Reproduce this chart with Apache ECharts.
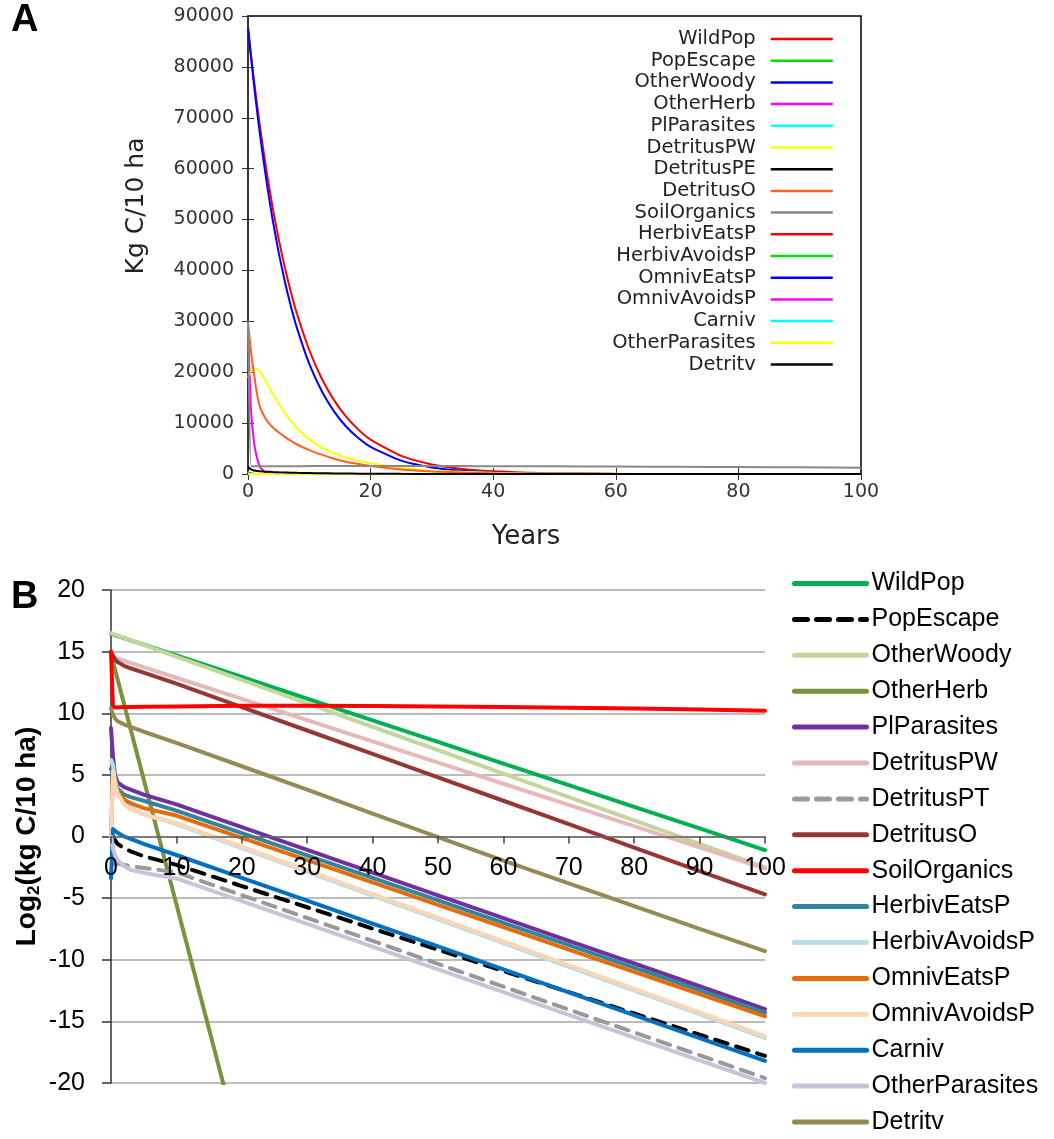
<!DOCTYPE html>
<html>
<head>
<meta charset="utf-8">
<script src="https://cdn.jsdelivr.net/npm/echarts@6/dist/echarts.min.js"></script>
<style>
  html, body { margin: 0; padding: 0; background: #fff; }
  #chart { width: 1054px; height: 1139px; }
</style>
</head>
<body>
<div id="chart"></div>
<script>
// ---- panel A : Kg C / 10 ha (linear) ----
const yearsA = [0, 0.5, 1, 1.5, 2, 3, 4, 5, 6, 7, 8, 10, 12, 14, 16, 18, 20, 25, 30, 35, 40, 45, 50, 60, 70, 80, 90, 100];
const namesA = ['WildPop', 'PopEscape', 'OtherWoody', 'OtherHerb', 'PlParasites', 'DetritusPW', 'DetritusPE', 'DetritusO',
  'SoilOrganics', 'HerbivEatsP', 'HerbivAvoidsP', 'OmnivEatsP', 'OmnivAvoidsP', 'Carniv', 'OtherParasites', 'Detritv'];
const wildPopA = [87700, 82250, 77140, 72350, 67860, 59690, 52510, 46180, 40620, 35730, 31430, 24320, 18820, 14570, 11270, 8720, 6750, 3550, 1870, 984, 518, 273, 144, 40, 11, 3, 1, 0];
const popEscapeA = [0, 1, 1, 1, 1, 1, 1, 1, 1, 1, 0.5, 0.5, 0.5, 0.4, 0.3, 0.3, 0.2, 0.1, 0.1, 0, 0, 0, 0, 0, 0, 0, 0, 0];
const otherWoodyA = [87700, 81770, 76250, 71090, 66280, 57630, 50100, 43550, 37860, 32910, 28620, 21630, 16350, 12360, 9340, 7060, 5330, 2620, 1290, 636, 313, 154, 76, 18, 4, 1, 0, 0];
const otherHerbA = [29000, 12500, 6000, 3000, 1300, 200, 40, 10, 2, 1, 0, 0, 0, 0, 0, 0, 0, 0, 0, 0, 0, 0, 0, 0, 0, 0, 0, 0];
const plParasitesA = [450, 60, 25, 18, 15, 13, 12, 11, 10, 9, 9, 8, 7, 6, 5, 4, 3, 2, 1, 0.5, 0, 0, 0, 0, 0, 0, 0, 0];
const detritusPWA = [19000, 20300, 20800, 20700, 20100, 18000, 15800, 13800, 12000, 10400, 9000, 6800, 5200, 4100, 3200, 2600, 2100, 1200, 700, 420, 250, 150, 90, 30, 10, 4, 1, 0];
const detritusPEA = [0.5, 0.3, 0.2, 0.2, 0.2, 0.2, 0.2, 0.2, 0.1, 0.1, 0.1, 0.1, 0.1, 0, 0, 0, 0, 0, 0, 0, 0, 0, 0, 0, 0, 0, 0, 0];
const detritusOA = [29800, 24000, 19500, 15500, 13000, 10600, 9200, 8200, 7300, 6500, 5800, 4700, 3800, 3000, 2400, 1950, 1550, 900, 500, 280, 160, 90, 50, 15, 5, 1, 0, 0];
const soilOrganicsA = [30000, 1500, 1510, 1520, 1520, 1530, 1530, 1540, 1540, 1540, 1540, 1550, 1550, 1550, 1550, 1560, 1560, 1560, 1550, 1550, 1540, 1520, 1500, 1460, 1420, 1370, 1310, 1250];
const herbivEatsPA = [45, 40, 18, 12, 10, 9, 8, 7, 6, 6, 5, 4, 3, 3, 2, 2, 2, 1, 0.5, 0.3, 0, 0, 0, 0, 0, 0, 0, 0];
const herbivAvoidsPA = [73, 40, 14, 10, 8, 6, 5, 4, 4, 3, 3, 2, 2, 1, 1, 1, 1, 0.5, 0.3, 0.2, 0, 0, 0, 0, 0, 0, 0, 0];
const omnivEatsPA = [1, 30, 14, 10, 8, 6, 5, 5, 4, 4, 3, 3, 2, 2, 1, 1, 1, 0.5, 0.3, 0.2, 0, 0, 0, 0, 0, 0, 0, 0];
const omnivAvoidsPA = [1, 35, 12, 9, 6, 5, 4, 3, 3, 3, 2, 2, 1, 1, 1, 1, 0.5, 0.3, 0.2, 0.1, 0, 0, 0, 0, 0, 0, 0, 0];
const carnivA = [0.1, 1.5, 1.2, 1.1, 1, 0.9, 0.8, 0.7, 0.6, 0.6, 0.5, 0.4, 0.3, 0.3, 0.2, 0.2, 0.1, 0.1, 0, 0, 0, 0, 0, 0, 0, 0, 0, 0];
const otherParasitesA = [1, 0.4, 0.25, 0.25, 0.2, 0.2, 0.15, 0.12, 0.1, 0.1, 0.1, 0.1, 0.1, 0, 0, 0, 0, 0, 0, 0, 0, 0, 0, 0, 0, 0, 0, 0];
const detritvA = [1350, 900, 700, 580, 520, 450, 390, 340, 300, 270, 240, 190, 150, 120, 90, 70, 55, 30, 15, 8, 4, 2, 1, 0, 0, 0, 0, 0];
const valuesA = [wildPopA, popEscapeA, otherWoodyA, otherHerbA, plParasitesA, detritusPWA, detritusPEA, detritusOA,
  soilOrganicsA, herbivEatsPA, herbivAvoidsPA, omnivEatsPA, omnivAvoidsPA, carnivA, otherParasitesA, detritvA];
const colorsA = ['#ff0000', '#00e000', '#0000ff', '#ff00ff', '#00ffff', '#ffff00', '#000000', '#ff6020', '#888888',
  '#ff0000', '#00e000', '#0000ff', '#ff00ff', '#00ffff', '#ffff00', '#000000'];

// ---- panel B : log2(kg C / 10 ha) ----
const yearsB = [0, 0.3, 0.6, 1, 2, 3, 5, 10, 20, 30, 40, 50, 60, 70, 80, 90, 100];
const namesB = ['WildPop', 'PopEscape', 'OtherWoody', 'OtherHerb', 'PlParasites', 'DetritusPW', 'DetritusPT', 'DetritusO',
  'SoilOrganics', 'HerbivEatsP', 'HerbivAvoidsP', 'OmnivEatsP', 'OmnivAvoidsP', 'Carniv', 'OtherParasites', 'Detritv'];
const wildPopB = [16.45, 16.40, 16.34, 16.27, 16.10, 15.92, 15.57, 14.70, 12.94, 11.19, 9.43, 7.68, 5.92, 4.17, 2.41, 0.66, -1.1];
const popEscapeB = [null, 0.0, -0.3, -0.6, -0.95, -1.2, -1.6, -2.3, -4.02, -5.74, -7.47, -9.19, -10.91, -12.63, -14.36, -16.08, -17.8];
const otherWoodyB = [16.5, 16.44, 16.39, 16.31, 16.12, 15.93, 15.55, 14.6, 12.7, 10.8, 8.9, 7.0, 5.1, 3.2, 1.3, -0.6, -2.5];
const otherHerbB = [14.8, 14.19, 13.58, 12.77, 10.74, 8.71, 4.65, -5.5, -25.8, null, null, null, null, null, null, null, null];
const plParasitesB = [8.8, 6.5, 5.0, 4.4, 4.0, 3.8, 3.4, 2.6, 0.76, -1.09, -2.93, -4.78, -6.62, -8.46, -10.3, -12.15, -14.0];
const detritusPWB = [14.6, 14.55, 14.5, 14.43, 14.26, 14.08, 13.74, 12.88, 11.16, 9.44, 7.72, 6.0, 4.28, 2.56, 0.84, -0.88, -2.6];
const detritusPTB = [null, null, -2.2, -2.2, -2.3, -2.4, -2.55, -2.9, -4.76, -6.61, -8.47, -10.33, -12.18, -14.04, -15.89, -17.74, -19.6];
const detritusOB = [15.0, 14.7, 14.4, 14.15, 13.85, 13.65, 13.3, 12.4, 10.5, 8.6, 6.7, 4.8, 2.9, 1.0, -0.9, -2.8, -4.7];
const soilOrganicsB = [15.0, 10.5, 10.45, 10.47, 10.5, 10.5, 10.52, 10.55, 10.6, 10.6, 10.58, 10.55, 10.5, 10.45, 10.38, 10.3, 10.2];
const herbivEatsPB = [5.5, 5.6, 4.6, 3.9, 3.4, 3.2, 2.9, 2.1, 0.28, -1.54, -3.36, -5.18, -7.0, -8.82, -10.64, -12.47, -14.3];
const herbivAvoidsPB = [6.2, 5.8, 4.6, 3.7, 2.9, 2.4, 1.8, 1.0, -0.95, -2.87, -4.8, -6.72, -8.65, -10.57, -12.5, -14.42, -16.35];
const omnivEatsPB = [0.2, 5.0, 4.2, 3.7, 3.0, 2.7, 2.3, 1.7, -0.11, -1.92, -3.73, -5.54, -7.35, -9.17, -10.98, -12.79, -14.6];
const omnivAvoidsPB = [0.0, 5.3, 4.2, 3.5, 2.6, 2.2, 1.8, 1.1, -0.82, -2.74, -4.67, -6.59, -8.51, -10.43, -12.36, -14.28, -16.2];
const carnivB = [-3.4, 0.6, 0.5, 0.3, 0.0, -0.2, -0.6, -1.5, -3.36, -5.21, -7.07, -8.92, -10.78, -12.64, -14.49, -16.35, -18.2];
const otherParasitesB = [0.0, -1.0, -1.5, -1.9, -2.4, -2.7, -2.95, -3.4, -5.24, -7.09, -8.93, -10.78, -12.62, -14.47, -16.31, -18.16, -20.0];
const detritvB = [10.4, 9.9, 9.6, 9.35, 9.1, 8.9, 8.5, 7.6, 5.7, 3.8, 1.85, -0.05, -1.95, -3.8, -5.65, -7.5, -9.3];
const valuesB = [wildPopB, popEscapeB, otherWoodyB, otherHerbB, plParasitesB, detritusPWB, detritusPTB, detritusOB,
  soilOrganicsB, herbivEatsPB, herbivAvoidsPB, omnivEatsPB, omnivAvoidsPB, carnivB, otherParasitesB, detritvB];
const colorsB = ['#00b050', '#000000', '#c3d69b', '#77933c', '#7030a0', '#e6b9b8', '#999999', '#953735',
  '#ff0000', '#31859c', '#b7dee8', '#e46c0a', '#fcd5b5', '#0070c0', '#ccc1da', '#948a54'];
const dashedB = ['PopEscape', 'DetritusPT'];

const font = 'Liberation Sans, Arial, sans-serif';
const fontA = 'DejaVu Sans, sans-serif';
const chart = echarts.init(document.getElementById('chart'));

const seriesA = namesA.map((name, k) => ({
  name: name,
  type: 'line',
  xAxisIndex: 0,
  yAxisIndex: 0,
  symbol: 'none',
  smooth: 0.2,
  data: yearsA.map((t, i) => [t, valuesA[k][i]]),
  lineStyle: { color: colorsA[k], width: 2 },
  itemStyle: { color: colorsA[k] }
}));

// B names carry a suffix so both legends find their own series
const seriesB = namesB.map((name, k) => ({
  name: name + ' (B)',
  type: 'line',
  xAxisIndex: 2,
  yAxisIndex: 2,
  symbol: 'none',
  data: yearsB.map((t, i) => [t, valuesB[k][i]]),
  lineStyle: {
    color: colorsB[k],
    width: 4,
    cap: 'round',
    join: 'round',
    type: dashedB.includes(name) ? [13, 9] : 'solid'
  },
  itemStyle: { color: colorsB[k] }
}));

const option = {
  backgroundColor: '#fff',
  animation: false,
  textStyle: { fontFamily: font },
  title: [
    { text: 'A', left: 11, top: 2, padding: 0, textStyle: { fontSize: 38, fontWeight: 'bold', color: '#000', fontFamily: font } },
    { text: 'B', left: 11, top: 579, padding: 0, textStyle: { fontSize: 38, fontWeight: 'bold', color: '#000', fontFamily: font } }
  ],
  graphic: [
    { type: 'text', x: 136, y: 206, rotation: Math.PI / 2,
      style: { text: 'Kg C/10 ha', font: '25px ' + fontA, fill: '#222', align: 'center', verticalAlign: 'middle' } },
    { type: 'text', x: 526, y: 537,
      style: { text: 'Years', font: '26px ' + fontA, fill: '#222', align: 'center', verticalAlign: 'middle' } }
  ],
  grid: [
    { left: 248, top: 16, width: 613, height: 458, show: true, borderColor: '#000', borderWidth: 1.5, backgroundColor: 'transparent' },
    { left: 111, top: 590, width: 654, height: 493 }
  ],
  legend: [
    {
      data: namesA,
      orient: 'vertical',
      align: 'right',
      right: 220,
      top: 29,
      padding: 0,
      itemWidth: 62,
      itemHeight: 20,
      itemGap: 1.7,
      itemStyle: { opacity: 0 },
      lineStyle: { width: 2.5 },
      textStyle: { fontSize: 19.5, lineHeight: 20, color: '#222', fontFamily: fontA, padding: [0, 10, 0, 0] }
    },
    {
      data: namesB.map(n => n + ' (B)'),
      orient: 'vertical',
      align: 'left',
      left: 792,
      top: 571,
      padding: 0,
      itemWidth: 72,
      itemHeight: 26,
      itemGap: 10.9,
      itemStyle: { opacity: 0 },
      lineStyle: { width: 5 },
      formatter: n => n.replace(' (B)', ''),
      textStyle: { fontSize: 25, color: '#000', fontFamily: font }
    }
  ],
  xAxis: [
    {
      gridIndex: 0, type: 'value', min: 0, max: 100, interval: 20,
      axisLine: { show: true, onZero: false, lineStyle: { color: '#333', width: 1.5 } },
      axisTick: { inside: true, length: 6, lineStyle: { color: '#333' } },
      axisLabel: { fontSize: 19, color: '#333', margin: 9, fontFamily: fontA },
      splitLine: { show: false }
    },
    {
      gridIndex: 0, type: 'value', position: 'top', min: 0, max: 100, interval: 20,
      axisLine: { show: false },
      axisTick: { inside: true, length: 6, lineStyle: { color: '#333' } },
      axisLabel: { show: false },
      splitLine: { show: false }
    },
    {
      // year axis drawn across the zero line, as in the spreadsheet chart
      gridIndex: 1, type: 'value', min: 0, max: 100, interval: 10, z: 5,
      offset: -246.5,
      axisLine: { show: true, onZero: false, lineStyle: { color: '#666', width: 1.5 } },
      axisTick: { show: true, length: 7, lineStyle: { color: '#444', width: 1.5 } },
      axisLabel: { fontSize: 25, color: '#000', margin: 19 },
      splitLine: { show: false }
    }
  ],
  yAxis: [
    {
      gridIndex: 0, type: 'value', min: 0, max: 90000, interval: 10000,
      axisLine: { show: true, lineStyle: { color: '#333', width: 1.5 } },
      axisTick: { inside: true, length: 6, lineStyle: { color: '#333' } },
      axisLabel: { fontSize: 19, color: '#333', margin: 14, fontFamily: fontA, formatter: v => String(v) },
      splitLine: { show: false }
    },
    {
      gridIndex: 0, type: 'value', position: 'right', min: 0, max: 90000, interval: 10000,
      axisLine: { show: false },
      axisTick: { inside: true, length: 6, lineStyle: { color: '#333' } },
      axisLabel: { show: false },
      splitLine: { show: false }
    },
    {
      gridIndex: 1, type: 'value', min: -20, max: 20, interval: 5,
      name: 'Log{sub|2}(kg C/10 ha)',
      nameLocation: 'middle',
      nameGap: 68,
      nameMoveOverlap: false,
      nameTextStyle: {
        fontSize: 28, fontWeight: 'bold', color: '#000', fontFamily: font, lineHeight: 32,
        rich: { sub: { fontSize: 17, fontWeight: 'bold', color: '#000', fontFamily: font, verticalAlign: 'bottom', lineHeight: 15 } }
      },
      axisLine: { show: true, lineStyle: { color: '#333', width: 1.5 } },
      axisTick: { show: true, length: 9, lineStyle: { color: '#333', width: 1.5 } },
      axisLabel: { fontSize: 25, color: '#000', margin: 26 },
      splitLine: { show: true, lineStyle: { color: '#a6a6a6', width: 1.5 } }
    }
  ],
  series: seriesA.concat(seriesB)
};

chart.setOption(option);
</script>
</body>
</html>
